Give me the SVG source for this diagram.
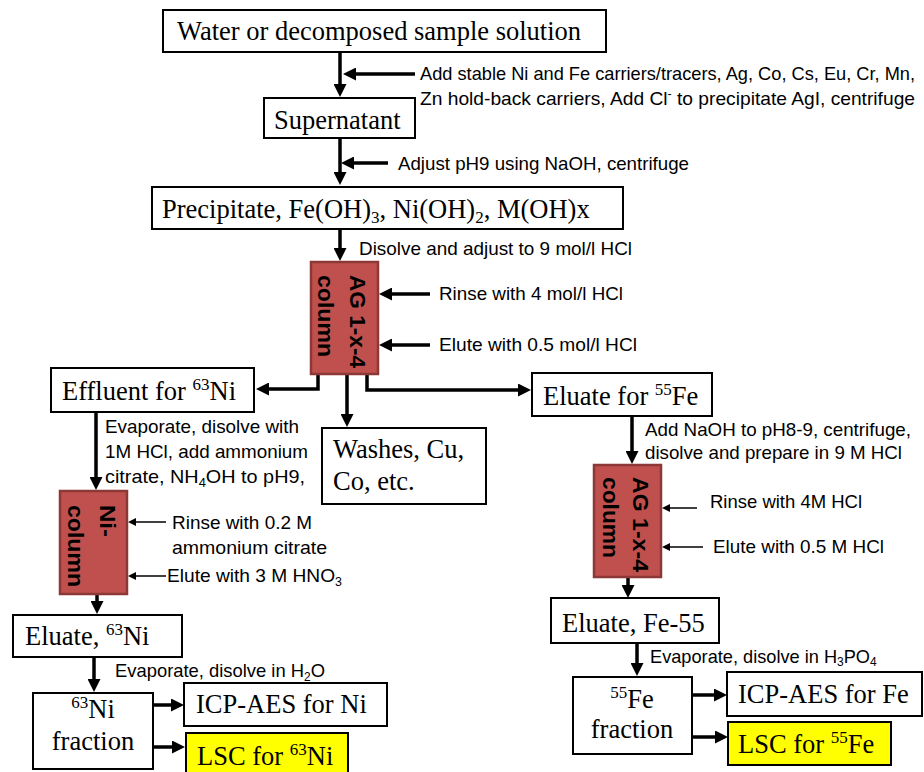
<svg xmlns="http://www.w3.org/2000/svg" width="924" height="772" viewBox="0 0 924 772">
  <defs>
    <marker id="head" markerUnits="userSpaceOnUse" markerWidth="13" markerHeight="13" refX="5" refY="6.5" orient="auto">
      <path d="M0,0 L13,6.5 L0,13 z" fill="#000"/>
    </marker>
    <marker id="headThin" markerUnits="userSpaceOnUse" markerWidth="8" markerHeight="8" refX="4" refY="4" orient="auto">
      <path d="M0,0 L8,4 L0,8 z" fill="#000"/>
    </marker>
    <style>
      .box { fill: #fff; stroke: #000; stroke-width: 2; }
      .hl { fill: #ffff00; stroke: #000; stroke-width: 2; }
      .col { fill: #c0504d; stroke: #8c3836; stroke-width: 2.5; }
      .t { font-family: "Liberation Serif", "Times New Roman", serif; font-size: 26.5px; fill: #000; }
      .s { font-family: "Liberation Sans", Arial, sans-serif; font-size: 18.5px; fill: #000; }
      .c { font-family: "Liberation Sans", Arial, sans-serif; font-size: 22px; font-weight: bold; fill: #000; }
      .thick { fill: none; stroke: #000; stroke-width: 3.5; marker-end: url(#head); }
      .thin { fill: none; stroke: #000; stroke-width: 1.5; marker-end: url(#headThin); }
    </style>
  </defs>
  <rect width="924" height="772" fill="#fff"/>

  <!-- connectors -->
  <g id="connectors">
    <path class="thick" d="M340,52 V89"/>
    <path class="thick" d="M415,74 H351"/>
    <path class="thick" d="M340,138 V177"/>
    <path class="thick" d="M388,163 H349"/>
    <path class="thick" d="M340,229 V253"/>
    <path class="thick" d="M430,294 H387"/>
    <path class="thick" d="M430,345 H387"/>
    <path class="thick" d="M318,374 V389 H264"/>
    <path class="thick" d="M347,374 V419"/>
    <path class="thick" d="M367,374 V390 H523"/>
    <path class="thick" d="M96,412 V482"/>
    <path class="thick" d="M97,594 V606"/>
    <path class="thick" d="M94,657 V684"/>
    <path class="thick" d="M153,705 H176"/>
    <path class="thick" d="M153,747 H177"/>
    <path class="thick" d="M632,416 V456"/>
    <path class="thick" d="M628,577 V590"/>
    <path class="thick" d="M637,643 V668"/>
    <path class="thick" d="M692,695 H719"/>
    <path class="thick" d="M692,737 H720"/>
    <path class="thin" d="M166,522 H132"/>
    <path class="thin" d="M166,576 H132"/>
    <path class="thin" d="M697,508 H666"/>
    <path class="thin" d="M703,547 H666"/>
  </g>

  <!-- step annotations -->
  <g id="annotations">
    <text class="s" x="420" y="80" textLength="495" lengthAdjust="spacingAndGlyphs">Add stable Ni and Fe carriers/tracers, Ag, Co, Cs, Eu, Cr, Mn,</text>
    <text class="s" x="420" y="105" textLength="495" lengthAdjust="spacingAndGlyphs">Zn hold-back carriers,  Add Cl<tspan font-size="12" dy="-7">-</tspan><tspan dy="7"> to precipitate AgI, centrifuge</tspan></text>
    <text class="s" x="398" y="170" textLength="291" lengthAdjust="spacingAndGlyphs">Adjust pH9 using NaOH, centrifuge</text>
    <text class="s" x="359" y="255" textLength="273" lengthAdjust="spacingAndGlyphs">Disolve and adjust to 9 mol/l HCl</text>
    <text class="s" x="439" y="300" textLength="184" lengthAdjust="spacingAndGlyphs">Rinse with 4 mol/l HCl</text>
    <text class="s" x="439" y="351" textLength="198" lengthAdjust="spacingAndGlyphs">Elute with 0.5 mol/l HCl</text>
    <text class="s" x="105" y="433" textLength="194" lengthAdjust="spacingAndGlyphs">Evaporate, disolve with</text>
    <text class="s" x="105" y="458" textLength="203" lengthAdjust="spacingAndGlyphs">1M HCl, add ammonium</text>
    <text class="s" x="105" y="483" textLength="200" lengthAdjust="spacingAndGlyphs">citrate, NH<tspan font-size="12" dy="4">4</tspan><tspan dy="-4">OH to pH9,</tspan></text>
    <text class="s" x="172" y="529" textLength="140" lengthAdjust="spacingAndGlyphs">Rinse with 0.2 M</text>
    <text class="s" x="172" y="554" textLength="155" lengthAdjust="spacingAndGlyphs">ammonium citrate</text>
    <text class="s" x="167" y="582" textLength="175" lengthAdjust="spacingAndGlyphs">Elute with 3 M HNO<tspan font-size="12" dy="4">3</tspan></text>
    <text class="s" x="645" y="436" textLength="266" lengthAdjust="spacingAndGlyphs">Add NaOH to pH8-9, centrifuge,</text>
    <text class="s" x="645" y="459" textLength="257" lengthAdjust="spacingAndGlyphs">disolve and prepare in 9 M HCl</text>
    <text class="s" x="710" y="508" textLength="152" lengthAdjust="spacingAndGlyphs">Rinse with 4M HCl</text>
    <text class="s" x="713" y="553" textLength="171" lengthAdjust="spacingAndGlyphs">Elute with 0.5 M HCl</text>
    <text class="s" x="115" y="677" textLength="210" lengthAdjust="spacingAndGlyphs">Evaporate, disolve in H<tspan font-size="12" dy="4">2</tspan><tspan dy="-4">O</tspan></text>
    <text class="s" x="650" y="663" style="font-size:18.2px">Evaporate, disolve in H<tspan font-size="12" dy="3">3</tspan><tspan dy="-3">PO</tspan><tspan font-size="12" dy="3">4</tspan></text>
  </g>

  <!-- nodes -->
  <g id="sample">
    <rect class="box" x="163" y="10" width="443" height="42"/>
    <text class="t" x="177" y="40">Water or decomposed sample solution</text>
  </g>
  <g id="supernatant">
    <rect class="box" x="264" y="98" width="151" height="40"/>
    <text class="t" x="274" y="129">Supernatant</text>
  </g>
  <g id="precipitate">
    <rect class="box" x="152" y="187" width="471" height="42"/>
    <text class="t" x="162" y="218">Precipitate, Fe(OH)<tspan font-size="17" dy="5">3</tspan><tspan dy="-5">, Ni(OH)</tspan><tspan font-size="17" dy="5">2</tspan><tspan dy="-5">, M(OH)x</tspan></text>
  </g>
  <g id="ag-column-1">
    <rect class="col" x="311" y="262" width="67" height="112"/>
    <text class="c" transform="translate(350,275) rotate(90)" textLength="93" lengthAdjust="spacingAndGlyphs">AG 1-x-4</text>
    <text class="c" transform="translate(318,275) rotate(90)" textLength="82" lengthAdjust="spacingAndGlyphs">column</text>
  </g>
  <g id="effluent-ni">
    <rect class="box" x="51" y="368" width="203" height="44"/>
    <text class="t" x="62" y="400">Effluent for <tspan font-size="17" dy="-10">63</tspan><tspan dy="10">Ni</tspan></text>
  </g>
  <g id="washes">
    <rect class="box" x="322" y="428" width="164" height="76"/>
    <text class="t" x="333" y="458">Washes, Cu,</text>
    <text class="t" x="333" y="490">Co, etc.</text>
  </g>
  <g id="eluate-fe">
    <rect class="box" x="532" y="373" width="180" height="43"/>
    <text class="t" x="543" y="405">Eluate for <tspan font-size="17" dy="-10">55</tspan><tspan dy="10">Fe</tspan></text>
  </g>
  <g id="ni-column">
    <rect class="col" x="60" y="491" width="67" height="103"/>
    <text class="c" transform="translate(100,505) rotate(90)" textLength="32" lengthAdjust="spacingAndGlyphs">Ni-</text>
    <text class="c" transform="translate(68,505) rotate(90)" textLength="82" lengthAdjust="spacingAndGlyphs">column</text>
  </g>
  <g id="ag-column-2">
    <rect class="col" x="594" y="465" width="67" height="112"/>
    <text class="c" transform="translate(633,477) rotate(90)" textLength="95" lengthAdjust="spacingAndGlyphs">AG 1-x-4</text>
    <text class="c" transform="translate(603,477) rotate(90)" textLength="81" lengthAdjust="spacingAndGlyphs">column</text>
  </g>
  <g id="eluate-ni">
    <rect class="box" x="13" y="615" width="169" height="42"/>
    <text class="t" x="25" y="645">Eluate, <tspan font-size="17" dy="-10">63</tspan><tspan dy="10">Ni</tspan></text>
  </g>
  <g id="ni-fraction">
    <rect class="box" x="33" y="693" width="120" height="76"/>
    <text class="t" x="93" y="718" text-anchor="middle"><tspan font-size="17" dy="-10">63</tspan><tspan dy="10">Ni</tspan></text>
    <text class="t" x="93" y="750" text-anchor="middle">fraction</text>
  </g>
  <g id="icp-ni">
    <rect class="box" x="184" y="683" width="203" height="43"/>
    <text class="t" x="196" y="713">ICP-AES for Ni</text>
  </g>
  <g id="lsc-ni">
    <rect class="hl" x="186" y="733" width="162" height="45"/>
    <text class="t" x="197" y="765">LSC for <tspan font-size="17" dy="-10">63</tspan><tspan dy="10">Ni</tspan></text>
  </g>
  <g id="eluate-fe55">
    <rect class="box" x="551" y="598" width="168" height="45"/>
    <text class="t" x="562" y="632">Eluate, Fe-55</text>
  </g>
  <g id="fe-fraction">
    <rect class="box" x="573" y="677" width="119" height="77"/>
    <text class="t" x="632" y="708" text-anchor="middle"><tspan font-size="17" dy="-10">55</tspan><tspan dy="10">Fe</tspan></text>
    <text class="t" x="632" y="738" text-anchor="middle">fraction</text>
  </g>
  <g id="icp-fe">
    <rect class="box" x="727" y="672" width="195" height="44"/>
    <text class="t" x="738" y="703">ICP-AES for Fe</text>
  </g>
  <g id="lsc-fe">
    <rect class="hl" x="728" y="722" width="163" height="43"/>
    <text class="t" x="738" y="753">LSC for <tspan font-size="17" dy="-10">55</tspan><tspan dy="10">Fe</tspan></text>
  </g>
</svg>
